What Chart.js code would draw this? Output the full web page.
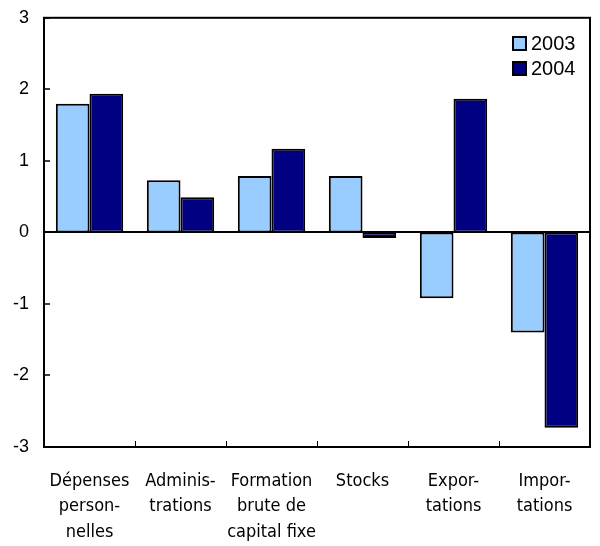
<!DOCTYPE html>
<html lang="fr">
<head>
    <meta charset="UTF-8">
    <title>Contributions à la croissance</title>
    <script src="https://cdn.jsdelivr.net/npm/chart.js"></script>
    <style>
        body { margin: 0; background: #fff; }
        #wrap { width: 600px; height: 546px; }
    </style>
</head>
<body>
    <div id="wrap"><canvas id="chart"></canvas></div>

    <script>
        // data
        const categories = [
            ['Dépenses', 'person-', 'nelles'],
            ['Adminis-', 'trations'],
            ['Formation', 'brute de', 'capital fixe'],
            ['Stocks'],
            ['Expor-', 'tations'],
            ['Impor-', 'tations']
        ];
        const seriesNames = ['2003', '2004'];
        const values2003 = [1.8, 0.73, 0.79, 0.79, -0.92, -1.4];
        const values2004 = [1.94, 0.49, 1.17, -0.08, 1.87, -2.73];
        const yTicks = [-3, -2, -1, 0, 1, 2, 3];

        const colors = ['#99ccff', '#000080'];

        // frame, zero line, inward ticks and the legend inside the plot
        const framePlugin = {
            id: 'frame',
            afterDatasetsDraw(chart) {
                const ctx = chart.ctx;
                const { left, right, top, bottom } = chart.chartArea;
                const x = chart.scales.x, y = chart.scales.y;
                ctx.save();
                ctx.strokeStyle = '#000';
                ctx.lineWidth = 2;

                // zero line
                const y0 = Math.round(y.getPixelForValue(0));
                ctx.beginPath();
                ctx.moveTo(left, y0);
                ctx.lineTo(right, y0);
                ctx.stroke();

                // box
                ctx.strokeRect(left, top, right - left, bottom - top);

                // y ticks
                ctx.lineWidth = 1.5;
                yTicks.forEach(v => {
                    const py = Math.round(y.getPixelForValue(v));
                    ctx.beginPath();
                    ctx.moveTo(left, py);
                    ctx.lineTo(left + 6, py);
                    ctx.stroke();
                });

                // x ticks between categories
                ctx.lineWidth = 1;
                for (let i = 1; i < categories.length; i++) {
                    const px = Math.round((x.getPixelForValue(i - 1) + x.getPixelForValue(i)) / 2) + 0.5;
                    ctx.beginPath();
                    ctx.moveTo(px, bottom);
                    ctx.lineTo(px, bottom - 6);
                    ctx.stroke();
                }

                // legend
                ctx.font = '20px "Liberation Sans", Arial, sans-serif';
                ctx.textBaseline = 'middle';
                ctx.textAlign = 'left';
                seriesNames.forEach((name, i) => {
                    const by = 37 + i * 25;
                    ctx.fillStyle = colors[i];
                    ctx.fillRect(513, by, 13, 13);
                    ctx.lineWidth = 2;
                    ctx.strokeRect(513, by, 13, 13);
                    ctx.fillStyle = '#000';
                    ctx.fillText(name, 531, by + 7);
                });
                ctx.restore();
            }
        };

        new Chart(document.getElementById('chart'), {
            type: 'bar',
            data: {
                labels: categories,
                datasets: [
                    { label: seriesNames[0], data: values2003, backgroundColor: colors[0] },
                    { label: seriesNames[1], data: values2004, backgroundColor: colors[1] }
                ].map(d => Object.assign(d, {
                    borderColor: '#000', borderWidth: 2, borderSkipped: false,
                    categoryPercentage: 0.74, barPercentage: 1
                }))
            },
            options: {
                responsive: true,
                maintainAspectRatio: false,
                animation: false,
                layout: { padding: { top: 9, right: 10, left: 0, bottom: 0 } },
                plugins: { legend: { display: false }, tooltip: { enabled: false } },
                scales: {
                    x: {
                        grid: { display: false },
                        border: { display: false },
                        ticks: {
                            color: '#000',
                            maxRotation: 0,
                            autoSkip: false,
                            padding: 13,
                            font: { family: '"DejaVu Sans Condensed", "Liberation Sans Narrow", sans-serif', size: 18, lineHeight: 1.43 }
                        },
                        afterFit(scale) { scale.height = 99; }
                    },
                    y: {
                        min: -3, max: 3,
                        grid: { display: false },
                        border: { display: false },
                        afterBuildTicks(scale) { scale.ticks = yTicks.map(v => ({ value: v })); },
                        ticks: {
                            color: '#000',
                            padding: 7,
                            font: { family: '"Liberation Sans", Arial, sans-serif', size: 18 }
                        },
                        afterFit(scale) { scale.width = 44; }
                    }
                }
            },
            plugins: [framePlugin]
        });
    </script>
</body>
</html>
